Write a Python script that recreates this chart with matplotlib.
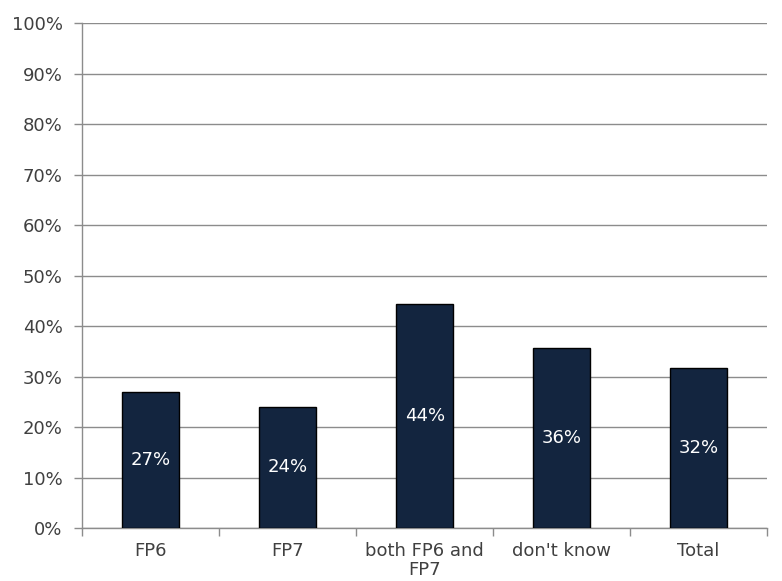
import numpy as np
import matplotlib
matplotlib.use("Agg")
import matplotlib.pyplot as plt
from matplotlib.ticker import FuncFormatter, FixedLocator

categories = ["FP6", "FP7", "both FP6 and\nFP7", "don't know", "Total"]
values = [27.0, 24.0, 44.3, 35.7, 31.6]
labels = ["27%", "24%", "44%", "36%", "32%"]

plt.rcParams['font.family'] = ['DejaVu Sans']
text_color = '#404040'
grid_color = '#8c8c8c'
fsize = 13

fig = plt.figure(figsize=(7.82, 5.81), dpi=100)
ax = fig.add_axes([0.105, 0.0912, 0.876, 0.869])

x = np.arange(len(categories))
bars = ax.bar(x, values, width=0.417, color='#13253f', edgecolor='#000000', linewidth=1, zorder=3)

for b, lab in zip(bars, labels):
    ax.text(b.get_x() + b.get_width() / 2, b.get_height() / 2, lab,
            ha='center', va='center', color='white', fontsize=fsize, zorder=4)

ax.set_xlim(-0.5, len(categories) - 0.5)
ax.set_ylim(0, 100)
ax.set_yticks(np.arange(0, 101, 10))
ax.yaxis.set_major_formatter(FuncFormatter(lambda v, p: f"{int(v)}%"))
ax.grid(axis='y', color=grid_color, linewidth=1, zorder=0)

# category labels centered, ticks between categories
ax.set_xticks(x)
ax.set_xticklabels(categories, fontsize=fsize, color=text_color, linespacing=1.05)
ax.tick_params(axis='x', length=0, pad=10)
ax.xaxis.set_minor_locator(FixedLocator(np.arange(-0.5, len(categories), 1.0)))
ax.tick_params(axis='x', which='minor', length=6, color=grid_color, width=1)
ax.tick_params(axis='y', length=6, color=grid_color, width=1, labelsize=fsize,
               labelcolor=text_color, pad=8)

for s in ['top', 'right']:
    ax.spines[s].set_visible(False)
for s in ['left', 'bottom']:
    ax.spines[s].set_color(grid_color)
    ax.spines[s].set_linewidth(1)

fig.savefig("out.png", dpi=100)
